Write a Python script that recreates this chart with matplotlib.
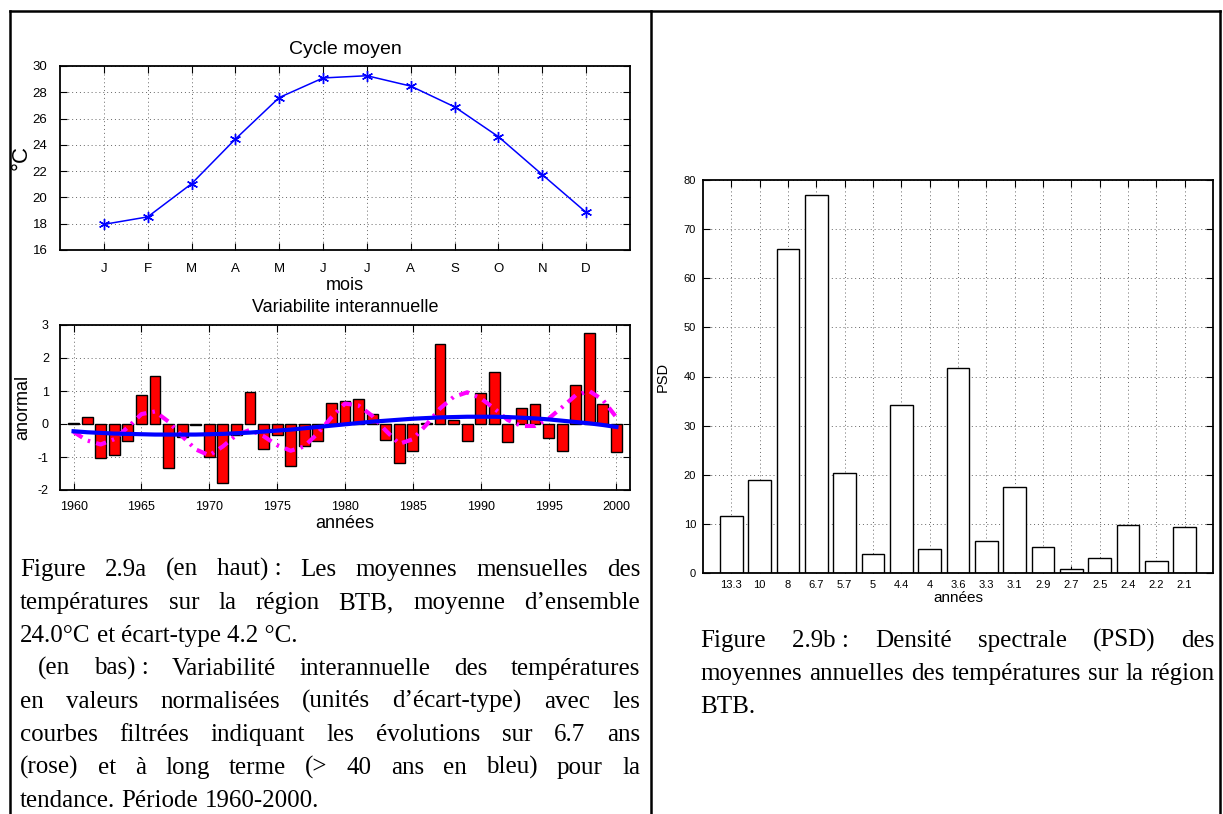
import numpy as np
import matplotlib.pyplot as plt
from matplotlib.lines import Line2D

plt.rcParams['font.family'] = 'Liberation Sans'
plt.rcParams['axes.unicode_minus'] = False

# cycle moyen (deg C)
months = ['J', 'F', 'M', 'A', 'M', 'J', 'J', 'A', 'S', 'O', 'N', 'D']
temp_mean = [17.95, 18.52, 21.04, 24.44, 27.6, 29.09, 29.26, 28.47, 26.89, 24.62, 21.73, 18.86]

# anomalies normalisees 1960-2000
years = list(range(1960, 2001))
anom = [0.04, 0.20, -1.03, -0.93, -0.51, 0.89, 1.45, -1.33, -0.40, -0.02,
        -0.99, -1.80, -0.32, 0.97, -0.77, -0.33, -1.28, -0.68, -0.50, 0.64,
        0.70, 0.76, 0.29, -0.47, -1.19, -0.82, 0.03, 2.41, 0.12, -0.52,
        0.93, 1.59, -0.56, 0.47, 0.61, -0.43, -0.81, 1.18, 2.76, 0.61,
        -0.85]
filt_67 = [-0.24, -0.50, -0.62, -0.46, -0.10, 0.30, 0.38, 0.07, -0.37, -0.77,
           -0.95, -0.68, -0.33, -0.18, -0.37, -0.64, -0.81, -0.68, -0.28, 0.20,
           0.62, 0.56, 0.25, -0.20, -0.60, -0.46, -0.02, 0.47, 0.82, 0.96,
           0.78, 0.47, 0.12, -0.06, -0.06, 0.16, 0.51, 0.87, 1.00, 0.73,
           0.20]
trend = [-0.22, -0.25, -0.27, -0.29, -0.30, -0.31, -0.32, -0.32, -0.32, -0.32,
         -0.31, -0.30, -0.28, -0.26, -0.23, -0.20, -0.17, -0.13, -0.09, -0.05,
         -0.01, 0.03, 0.07, 0.10, 0.13, 0.16, 0.18, 0.20, 0.21, 0.22,
         0.22, 0.22, 0.21, 0.19, 0.17, 0.14, 0.10, 0.06, 0.02, -0.03,
         -0.09]

# densite spectrale
periods = ['13.3', '10', '8', '6.7', '5.7', '5', '4.4', '4', '3.6', '3.3',
           '3.1', '2.9', '2.7', '2.5', '2.4', '2.2', '2.1']
psd = [11.68, 19.0, 66.0, 76.9, 20.4, 3.87, 34.1, 4.9, 41.8, 6.6,
       17.45, 5.3, 0.75, 3.1, 9.8, 2.5, 9.4]

W, H = 1223, 814
fig = plt.figure(figsize=(W / 100, H / 100), dpi=100)


def box(x0, y0, x1, y1):
    return [x0 / W, 1 - y1 / H, (x1 - x0) / W, (y1 - y0) / H]


def matlab_style(ax, size, pad):
    ax.tick_params(direction='in', top=True, right=True, length=5,
                   width=0.8, labelsize=size, pad=pad)
    ax.grid(True, color='0.4', linestyle=(0, (1, 3)), linewidth=0.7)
    ax.set_axisbelow(True)
    for s in ax.spines.values():
        s.set_linewidth(1.3)


# --- cycle moyen ---
ax1 = fig.add_axes(box(60, 66, 630, 250))
xm = np.arange(1, len(months) + 1)
ax1.plot(xm, temp_mean, color='b', marker=(6, 2, 0), markersize=8,
         markeredgewidth=1.0, linewidth=1.1)
ax1.set_xlim(0, 13)
ax1.set_ylim(16, 30)
ax1.set_xticks(xm)
ax1.set_xticklabels(months)
ax1.set_yticks(range(16, 31, 2))
ax1.set_title('Cycle moyen', fontsize=14, pad=9)
ax1.set_xlabel('mois', fontsize=13, labelpad=2)
ax1.set_ylabel('°C', fontsize=16, labelpad=1)
matlab_style(ax1, 9.5, 9)

# --- variabilite interannuelle ---
ax2 = fig.add_axes(box(60, 325, 630, 490))
ax2.bar(years, anom, width=0.8, color='red', edgecolor='black', linewidth=1.0)
ax2.plot(years, filt_67, color='magenta', linewidth=3,
         linestyle=(0, (2.5, 1.5, 0.6, 1.5)))
ax2.plot(years, trend, color='b', linewidth=3)
ax2.set_xlim(1959, 2001)
ax2.set_ylim(-2, 3)
ax2.set_xticks(range(1960, 2001, 5))
ax2.set_yticks(range(-2, 4))
ax2.set_title('Variabilite interannuelle', fontsize=13, pad=9)
ax2.set_xlabel('années', fontsize=13, labelpad=1)
ax2.set_ylabel('anormal', fontsize=13, labelpad=5)
matlab_style(ax2, 9, 8)

# --- PSD ---
ax3 = fig.add_axes(box(703, 180, 1213, 573))
xp = np.arange(1, len(periods) + 1)
ax3.bar(xp, psd, width=0.8, color='white', edgecolor='black', linewidth=1.0)
ax3.set_xlim(0, 18)
ax3.set_ylim(0, 80)
ax3.set_xticks(xp)
ax3.set_xticklabels(periods)
ax3.set_yticks(range(0, 81, 10))
ax3.set_xlabel('années', fontsize=11, labelpad=1)
ax3.set_ylabel('PSD', fontsize=10.5, labelpad=10)
matlab_style(ax3, 8, 5)

# --- cadre ---
frame = dict(color='black', linewidth=1.8, transform=fig.transFigure)
for xs, ys in [([10, 1220], [11, 11]), ([10, 10], [11, 814]),
               ([651, 651], [11, 814]), ([1220, 1220], [11, 814])]:
    fig.add_artist(Line2D([x / W for x in xs], [1 - y / H for y in ys], **frame))

# --- legendes (texte justifie) ---
cap = dict(family='Liberation Serif', fontsize=18, va='baseline', ha='left')
renderer = fig.canvas.get_renderer()


def width_of(s):
    t = fig.text(0, 0, s, **cap)
    w = t.get_window_extent(renderer).width
    t.remove()
    return w


space = width_of('a a') - width_of('aa')


def caption(lines, x0, x1, y0, step):
    for i, (line, justify, indent) in enumerate(lines):
        words = line.split('|')
        y = 1 - (y0 + i * step) / H
        texts = [fig.text(0, y, w, **cap) for w in words]
        widths = [t.get_window_extent(renderer).width for t in texts]
        start = x0 + indent
        if justify and len(words) > 1:
            gap = (x1 - start - sum(widths)) / (len(words) - 1)
        else:
            gap = space
        x = start
        for t, w in zip(texts, widths):
            t.set_x(x / W)
            x += w + gap


left_caption = [
    ('Figure|2.9a|(en|haut) :|Les|moyennes|mensuelles|des', True, 0),
    ('températures|sur|la|région|BTB,|moyenne|d’ensemble', True, 0),
    ('24.0°C|et|écart-type|4.2 °C.', False, 0),
    ('(en|bas) :|Variabilité|interannuelle|des|températures', True, 18),
    ('en|valeurs|normalisées|(unités|d’écart-type)|avec|les', True, 0),
    ('courbes|filtrées|indiquant|les|évolutions|sur|6.7|ans', True, 0),
    ('(rose)|et|à|long|terme|(>|40|ans|en|bleu)|pour|la', True, 0),
    ('tendance.|Période|1960-2000.', False, 0),
]
right_caption = [
    ('Figure|2.9b :|Densité|spectrale|(PSD)|des', True, 0),
    ('moyennes|annuelles|des|températures|sur|la|région', True, 0),
    ('BTB.', False, 0),
]
caption(left_caption, 20, 640, 576, 33.0)
caption(right_caption, 700, 1215, 647, 33.0)

fig.savefig('out.png', dpi=100)
